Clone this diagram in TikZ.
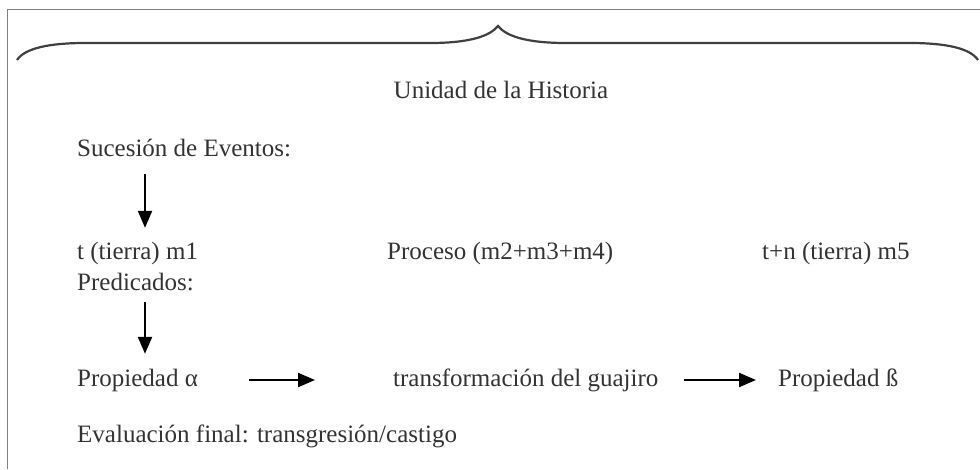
\documentclass[tikz,border=0pt]{standalone}
\usepackage{fontspec}
\setmainfont{Liberation Serif}
\usetikzlibrary{arrows.meta,positioning}
\tikzstyle{txt}=[anchor=base west, inner sep=0pt, text=black!80, font=\fontsize{25pt}{30pt}\selectfont, text height=17pt, text depth=5pt]
\tikzstyle{arr}=[line width=2.2pt, -{Triangle[length=17pt,width=14pt]}]
\newcommand{\drawframe}[0]
{
  \draw[black!50, line width=1pt] (7,469) -- (7,9) -- (980,9);
  \draw[black!75, line width=2.2pt] (17,60) .. controls (25,48) and (50,43) .. (85,43) -- (430,43) .. controls (470,43) and (490,36) .. (498,26) .. controls (506,36) and (526,43) .. (566,43) -- (910,43) .. controls (945,43) and (970,48) .. (978,60);
}

\begin{document}
\begin{tikzpicture}[x=1pt, y=-1pt]
	\useasboundingbox (0,0) rectangle (980,469);

	\drawframe{}

	\node[txt, anchor=base] (title) at (501,98) {Unidad de la Historia};

	\node[txt] (suc) at (77,156) {Sucesión de Eventos:};
	\node[txt] (tm1) at (77,259) {t (tierra) m1};
	\node[txt] (proc) at (387,259) {Proceso (m2+m3+m4)};
	\node[txt] (tnm5) at (762,259) {t+n (tierra) m5};
	\node[txt] (pred) at (77,290) {Predicados:};
	\node[txt] (propa) at (77,386) {Propiedad α};
	\node[txt] (transf) at (393,386) {transformación del guajiro};
	\node[txt] (propb) at (778,386) {Propiedad ß};
	\node[txt] (evalf) at (77,442) {Evaluación final: transgresión/castigo};

	\draw[arr] ([xshift=68pt, yshift=-13pt]suc.south west) -- ([xshift=68pt, yshift=14pt]tm1.north west);
	\draw[arr] ([xshift=68pt, yshift=-7pt]pred.south west) -- ([xshift=68pt, yshift=15pt]propa.north west);
	\draw[arr] ([xshift=51pt]propa.east) -- ([xshift=-78pt]transf.west);
	\draw[arr] ([xshift=25pt]transf.east) -- ([xshift=-22pt]propb.west);

\end{tikzpicture}
\end{document}
